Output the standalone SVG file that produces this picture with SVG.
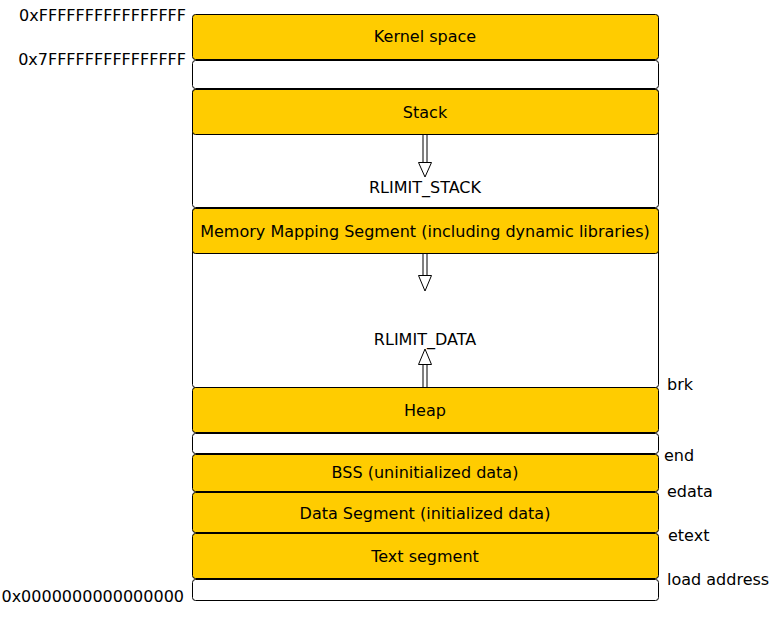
<svg xmlns="http://www.w3.org/2000/svg" width="771" height="632" viewBox="0 0 771 632">
<style>
.seg{fill:#ffcc00;stroke:#000;stroke-width:1}
.gap{fill:#fff;stroke:#000;stroke-width:1}
text{font-family:"DejaVu Sans",sans-serif;font-size:16px;fill:#000}
.c{text-anchor:middle}
.r{text-anchor:end}
.sh{stroke:#000;stroke-width:1;fill:none}
.hd{fill:#fff;stroke:#000;stroke-width:1}
</style>
<rect width="771" height="632" fill="#fff"/>
<g id="kernel"><rect class="seg" x="192.5" y="14.5" width="466" height="45" rx="3"/><text class="c" x="425" y="42">Kernel space</text></g>
<g id="gap-top"><rect class="gap" x="192.5" y="60.5" width="466" height="28" rx="3"/></g>
<g id="stack-region"><rect class="gap" x="192.5" y="89.5" width="466" height="118" rx="3"/></g>
<g id="stack"><rect class="seg" x="192.5" y="89.5" width="466" height="45" rx="3"/><text class="c" x="425" y="118">Stack</text></g>
<g id="rlimit-stack"><text class="c" x="425" y="193">RLIMIT_STACK</text></g>
<g id="mmap-region"><rect class="gap" x="192.5" y="208.5" width="466" height="179" rx="3"/></g>
<g id="mmap"><rect class="seg" x="192.5" y="208.5" width="466" height="45" rx="3"/><text class="c" x="425" y="237">Memory Mapping Segment (including dynamic libraries)</text></g>
<g id="rlimit-data"><text class="c" x="425" y="345">RLIMIT_DATA</text></g>
<g id="heap"><rect class="seg" x="192.5" y="387.5" width="466" height="45" rx="3"/><text class="c" x="425" y="416">Heap</text></g>
<g id="gap-heap"><rect class="gap" x="192.5" y="433.5" width="466" height="20" rx="3"/></g>
<g id="bss"><rect class="seg" x="192.5" y="454.5" width="466" height="37" rx="3"/><text class="c" x="425" y="478">BSS (uninitialized data)</text></g>
<g id="data"><rect class="seg" x="192.5" y="492.5" width="466" height="40" rx="3"/><text class="c" x="425" y="519">Data Segment (initialized data)</text></g>
<g id="text-seg"><rect class="seg" x="192.5" y="533.5" width="466" height="45" rx="3"/><text class="c" x="425" y="562">Text segment</text></g>
<g id="gap-bottom"><rect class="gap" x="192.5" y="579.5" width="466" height="21" rx="3"/></g>
<g id="addr-labels">
<text class="r" x="186" y="21">0xFFFFFFFFFFFFFFFF</text>
<text class="r" x="186" y="65">0x7FFFFFFFFFFFFFFF</text>
<text class="r" x="184" y="602">0x0000000000000000</text>
<text x="667" y="390">brk</text>
<text x="664" y="461">end</text>
<text x="667" y="497">edata</text>
<text x="668" y="541">etext</text>
<text x="667" y="585">load address</text>
</g>
<g id="connectors">
<path class="sh" d="M423,135V163M427,135V163"/>
<polygon class="hd" points="418.5,162.5 431.5,162.5 425,177"/>
<path class="sh" d="M423,254V276M427,254V276"/>
<polygon class="hd" points="418.5,275.5 431.5,275.5 425,291"/>
<path class="sh" d="M423,364V387M427,364V387"/>
<polygon class="hd" points="418.5,364.5 431.5,364.5 425,349"/>
</g>
</svg>
